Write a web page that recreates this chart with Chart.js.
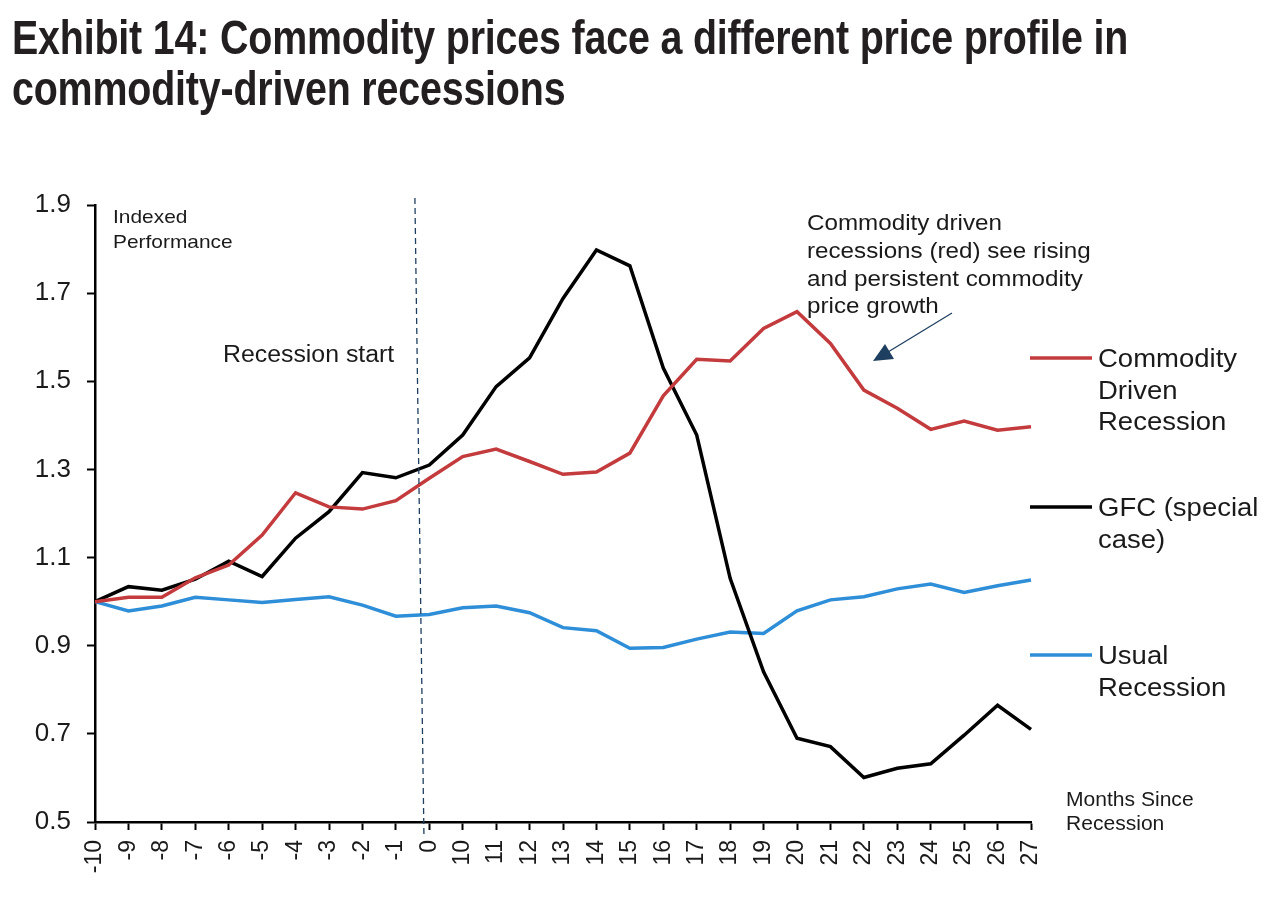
<!DOCTYPE html>
<html>
<head>
<meta charset="utf-8">
<script src="https://cdn.jsdelivr.net/npm/chart.js@4"></script>
<style>
  body { margin: 0; background: #fff; }
  #title {
    position: absolute; left: 12px; top: 12px;
    font-family: 'Liberation Sans', Arial, sans-serif;
    font-weight: bold; font-size: 48px; line-height: 51px; color: #231f20;
    white-space: nowrap; letter-spacing: -0.2px;
    transform: scaleX(0.82); transform-origin: 0 0;
  }
  #wrap { position: absolute; left: 0; top: 0; width: 1283px; height: 901px; }
</style>
</head>
<body>
<div id="wrap"><canvas id="chart"></canvas></div>
<div id="title">Exhibit 14: Commodity prices face a different price profile in<br>commodity-driven recessions</div>
<script>
// Categories (months since recession)
const months = ['-10', '-9', '-8', '-7', '-6', '-5', '-4', '-3', '-2', '-1', '0',
  '10', '11', '12', '13', '14', '15', '16', '17', '18', '19', '20', '21', '22', '23', '24', '25', '26', '27'];

// Series values
const commodityDriven = [1.00, 1.01, 1.01, 1.054, 1.083, 1.151, 1.247, 1.215, 1.21, 1.229, 1.28,
  1.329, 1.346, 1.318, 1.289, 1.294, 1.337, 1.467, 1.55, 1.546, 1.62, 1.658, 1.586, 1.48, 1.439, 1.391, 1.41, 1.389, 1.397];
const gfc = [1.00, 1.034, 1.026, 1.051, 1.092, 1.057, 1.144, 1.204, 1.293, 1.281, 1.31,
  1.378, 1.488, 1.553, 1.688, 1.798, 1.762, 1.53, 1.378, 1.053, 0.841, 0.69, 0.671, 0.601, 0.622, 0.632, 0.697, 0.765, 0.71];
const usual = [1.00, 0.979, 0.99, 1.01, 1.004, 0.998, 1.005, 1.011, 0.992, 0.967, 0.971,
  0.986, 0.99, 0.975, 0.941, 0.934, 0.894, 0.896, 0.915, 0.931, 0.928, 0.979, 1.004, 1.011, 1.029, 1.04, 1.021, 1.036, 1.049];

// Y axis range
const yMin = 0.5;
const yMax = 1.9;
const yStep = 0.2;

const RED = '#c33b3d';
const BLACK = '#000000';
const BLUE = '#2e8ed8';
const NAVY = '#1f3f60';
const TEXT = '#1a1a1a';
const FONT = "'Liberation Sans', Arial, sans-serif";

// Legend entries drawn at the right
const legendItems = [
  { color: RED, lines: ['Commodity', 'Driven', 'Recession'], y: 358 },
  { color: BLACK, lines: ['GFC (special', 'case)'], y: 507 },
  { color: BLUE, lines: ['Usual', 'Recession'], y: 655 }
];

// text drawn slightly wider, like the original
function wideText(ctx, text, x, y, sx) {
  ctx.save();
  ctx.translate(x, y);
  ctx.scale(sx, 1);
  ctx.fillText(text, 0, 0);
  ctx.restore();
}

// Annotations, legend, recession-start marker
const extras = {
  id: 'extras',
  afterDatasetsDraw(chart) {
    const ctx = chart.ctx;
    const x = chart.scales.x;
    const y = chart.scales.y;
    ctx.save();

    // recession start dashed line (between -1 and 0)
    const step = x.getPixelForValue(1) - x.getPixelForValue(0);
    ctx.strokeStyle = NAVY;
    ctx.lineWidth = 1.3;
    ctx.setLineDash([6, 4]);
    ctx.beginPath();
    ctx.moveTo(x.getPixelForValue(9) + step * 0.57, y.top - 7);
    ctx.lineTo(x.getPixelForValue(9) + step * 0.84, y.bottom + 13);
    ctx.stroke();
    ctx.setLineDash([]);

    ctx.fillStyle = TEXT;
    ctx.textBaseline = 'alphabetic';
    ctx.textAlign = 'left';

    ctx.font = '19px ' + FONT;
    wideText(ctx, 'Indexed', 113, 223, 1.1);
    wideText(ctx, 'Performance', 113, 248, 1.1);

    ctx.font = '23px ' + FONT;
    wideText(ctx, 'Recession start', 223, 362, 1.08);

    ctx.font = '22px ' + FONT;
    const note = ['Commodity driven', 'recessions (red) see rising', 'and persistent commodity', 'price growth'];
    note.forEach((t, i) => wideText(ctx, t, 807, 230 + i * 27.8, 1.1));

    // arrow
    ctx.strokeStyle = NAVY;
    ctx.fillStyle = NAVY;
    ctx.lineWidth = 1.3;
    ctx.beginPath();
    ctx.moveTo(952, 313);
    ctx.lineTo(888, 352);
    ctx.stroke();
    ctx.beginPath();
    ctx.moveTo(873, 361);
    ctx.lineTo(885, 344);
    ctx.lineTo(894, 359);
    ctx.closePath();
    ctx.fill();

    ctx.fillStyle = TEXT;
    ctx.font = '19.5px ' + FONT;
    wideText(ctx, 'Months Since', 1066, 806, 1.08);
    wideText(ctx, 'Recession', 1066, 830, 1.08);

    // legend
    legendItems.forEach(item => {
      ctx.strokeStyle = item.color;
      ctx.lineWidth = 3.5;
      ctx.beginPath();
      ctx.moveTo(1030, item.y);
      ctx.lineTo(1092, item.y);
      ctx.stroke();
      ctx.fillStyle = TEXT;
      ctx.font = '25px ' + FONT;
      item.lines.forEach((t, i) => wideText(ctx, t, 1098, item.y + 9 + i * 31.5, 1.1));
    });

    ctx.restore();
  }
};

new Chart(document.getElementById('chart'), {
  type: 'line',
  data: {
    labels: months,
    datasets: [
      { label: 'Commodity Driven Recession', data: commodityDriven, borderColor: RED },
      { label: 'GFC (special case)', data: gfc, borderColor: BLACK },
      { label: 'Usual Recession', data: usual, borderColor: BLUE }
    ].map(d => Object.assign(d, { borderWidth: 3.5, pointRadius: 0, tension: 0, fill: false }))
  },
  options: {
    responsive: true,
    maintainAspectRatio: false,
    animation: false,
    layout: { padding: { left: 0, top: 205, right: 252, bottom: 0 } },
    plugins: { legend: { display: false }, tooltip: { enabled: false } },
    scales: {
      x: {
        offset: false,
        grid: { drawOnChartArea: false, tickLength: 8, tickColor: BLACK, tickWidth: 2 },
        border: { color: BLACK, width: 2.5 },
        ticks: {
          autoSkip: false, maxRotation: 90, minRotation: 90, padding: 10,
          color: TEXT, font: { family: FONT, size: 23 }
        },
        afterFit: s => { s.height = 79; }
      },
      y: {
        min: yMin, max: yMax,
        grid: { drawOnChartArea: false, tickLength: 8, tickColor: BLACK, tickWidth: 2 },
        border: { color: BLACK, width: 2.5 },
        ticks: {
          stepSize: yStep, padding: 16, color: TEXT,
          font: { family: FONT, size: 26 },
          callback: v => v.toFixed(1)
        },
        afterFit: s => { s.width = 95; }
      }
    }
  },
  plugins: [extras]
});
</script>
</body>
</html>
